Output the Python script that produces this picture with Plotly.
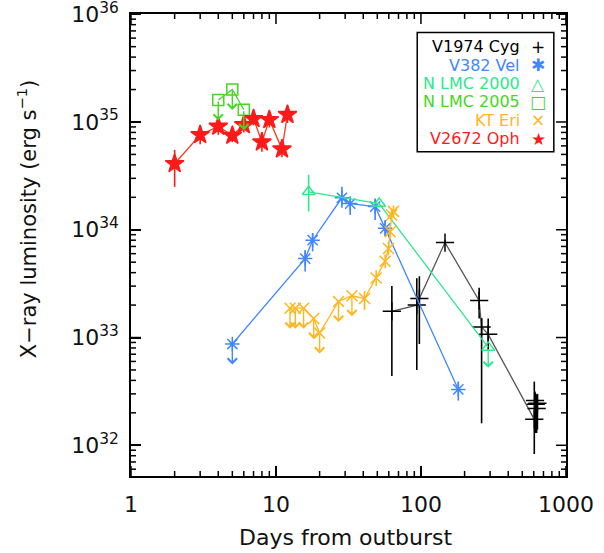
import numpy as np
import plotly.graph_objects as go

# ---------------- data ----------------
# V1974 Cyg (black plus)
cyg_days = [63, 93.6, 97.5, 146.5, 252, 262, 291, 605, 612, 620, 628, 636]
cyg_lum = [1.75e33, 2.0e33, 2.3e33, 7.6e33, 2.2e33, 1.25e33, 1.07e33,
           1.74e32, 2.6e32, 2.4e32, 2.2e32, 2.45e32]
cyg_lo = [4.4e32, 5.0e32, 8.7e32, 7.2e33, 1.5e33, 1.6e32, 7.5e32,
          8.3e31, 1.35e32, 1.3e32, 1.3e32, 1.4e32]
cyg_hi = [3.0e33, 3.55e33, 3.7e33, 8.0e33, 2.9e33, 1.5e33, 1.5e33,
          3.9e32, 3.05e32, 3.0e32, 2.9e32, 3.0e32]
cyg_ul = [False] * 12

# V382 Vel (blue asterisk)
vel_days = [5.0, 15.9, 17.9, 28.5, 32.5, 48.3, 56.6, 181]
vel_lum = [8.7e32, 5.4e33, 8.0e33, 1.98e34, 1.75e34, 1.64e34, 1.03e34, 3.3e32]
vel_lo = [np.nan, 4.1e33, 6.3e33, 1.6e34, 1.37e34, 1.23e34, 8.7e33, 2.6e32]
vel_hi = [np.nan, 6.5e33, 9.3e33, 2.5e34, 1.95e34, 1.95e34, 1.23e34, 3.9e32]
vel_ul = [True, False, False, False, False, False, False, False]

# N LMC 2000 (triangle)
n00_days = [16.8, 51.5, 291]
n00_lum = [2.25e34, 1.75e34, 8.1e32]
n00_lo = [1.48e34, np.nan, np.nan]
n00_hi = [3.24e34, np.nan, np.nan]
n00_ul = [False, False, True]

# N LMC 2005 (square, upper limits)
n05_days = [4.0, 5.0, 6.0]
n05_lum = [1.6e35, 2.0e35, 1.3e35]
n05_lo = [np.nan, np.nan, np.nan]
n05_hi = [np.nan, np.nan, np.nan]
n05_ul = [True, True, True]

# KT Eri (orange x)
kte_days = [12.5, 13.6, 15.5, 18.2, 20.0, 27.0, 33.4, 40.8, 49.1, 56.6, 59.7, 61.3, 62.8, 64.6]
kte_lum = [1.87e33, 1.87e33, 1.87e33, 1.5e33, 1.1e33, 2.16e33, 2.44e33, 2.3e33,
           3.57e33, 5.1e33, 6.7e33, 9.6e33, 1.37e34, 1.48e34]
kte_lo = [np.nan] * 7 + [1.8e33, 3.0e33, 4.4e33, 5.8e33, 8.4e33, 1.2e34, 1.3e34]
kte_hi = [np.nan] * 7 + [2.7e33, 4.2e33, 5.9e33, 7.7e33, 1.1e34, 1.55e34, 1.68e34]
kte_ul = [True] * 7 + [False] * 7

# V2672 Oph (red star)
oph_days = [2, 3, 4, 5, 6, 7, 8, 9, 11, 12]
oph_lum = [4.1e34, 7.6e34, 9.1e34, 7.5e34, 9.4e34, 1.07e35, 6.5e34, 1.05e35, 5.6e34, 1.17e35]
oph_lo = [2.5e34, 6.2e34, 7.6e34, 6.5e34, 8.0e34, 9.3e34, 5.3e34, 8.9e34, 4.7e34, 9.8e34]
oph_hi = [5.5e34, 9.3e34, 1.09e35, 8.6e34, 1.1e35, 1.23e35, 8.0e34, 1.24e35, 6.7e34, 1.4e35]
oph_ul = [False] * 10

legend_names = ["V1974 Cyg", "V382 Vel", "N LMC 2000", "N LMC 2005", "KT Eri", "V2672 Oph"]
legend_syms = ["+", "\u2731", "\u25b3", "\u25a1", "\u00d7", "\u2605"]

x_tickvals = [1, 10, 100, 1000]
x_ticktext = ["1", "10", "100", "1000"]
y_tickvals = [1e32, 1e33, 1e34, 1e35, 1e36]
y_ticktext = ["10<sup>32</sup>", "10<sup>33</sup>", "10<sup>34</sup>", "10<sup>35</sup>", "10<sup>36</sup>"]

X_RANGE = [0, 3.0005]
Y_RANGE = [31.715, 36.002]

# ---------------- style ----------------
FONT = "DejaVu Sans"
PLOT_W, PLOT_H = 435, 462
series = [
    dict(d=cyg_days, L=cyg_lum, lo=cyg_lo, hi=cyg_hi, ul=cyg_ul, color="#000000",
         lcolor="#555555", symbol="cross-thin-open", size=13),
    dict(d=vel_days, L=vel_lum, lo=vel_lo, hi=vel_hi, ul=vel_ul, color="#3f86ff",
         lcolor="#3f86ff", symbol="asterisk-open", size=12),
    dict(d=n00_days, L=n00_lum, lo=n00_lo, hi=n00_hi, ul=n00_ul, color="#2ee88e",
         lcolor="#2ee88e", symbol="triangle-up-open", size=11),
    dict(d=n05_days, L=n05_lum, lo=n05_lo, hi=n05_hi, ul=n05_ul, color="#44d822",
         lcolor="#44d822", symbol="square-open", size=11),
    dict(d=kte_days, L=kte_lum, lo=kte_lo, hi=kte_hi, ul=kte_ul, color="#ffb61c",
         lcolor="#ffb61c", symbol="x-thin-open", size=11),
    dict(d=oph_days, L=oph_lum, lo=oph_lo, hi=oph_hi, ul=oph_ul, color="#ff1a1a",
         lcolor="#ff3a1a", symbol="star", size=14),
]

fig = go.Figure()
annotations = []
for s in series:
    L = np.array(s["L"], dtype=float)
    lo = np.array(s["lo"], dtype=float)
    hi = np.array(s["hi"], dtype=float)
    eplus = np.nan_to_num(hi - L, nan=0.0)
    eminus = np.nan_to_num(L - lo, nan=0.0)
    fig.add_trace(go.Scatter(
        x=s["d"], y=s["L"], mode="lines+markers",
        line=dict(color=s["lcolor"], width=1.3),
        marker=dict(symbol=s["symbol"], size=s["size"], color=s["color"],
                    line=dict(color=s["color"], width=1.5)),
        error_y=dict(type="data", symmetric=False, array=eplus, arrayminus=eminus,
                     color=s["color"], thickness=1.6, width=0),
        showlegend=False, hoverinfo="skip",
    ))
    for d, l, u in zip(s["d"], s["L"], s["ul"]):
        if u:
            annotations.append(dict(
                x=float(np.log10(d)), y=float(np.log10(l) - 0.19),
                ax=float(np.log10(d)), ay=float(np.log10(l)),
                xref="x", yref="y", axref="x", ayref="y", text="",
                showarrow=True, arrowhead=4, arrowsize=1.3, arrowwidth=1.4,
                arrowcolor=s["color"], standoff=0, startstandoff=0,
            ))

# ---------- tick marks (inside, all four sides) drawn as one line trace ----------
minor_x = [float(m * 10.0 ** e) for e in range(0, 3) for m in range(2, 10)]
minor_y = [float(m * 10.0 ** e) for e in range(31, 36) for m in range(2, 10)]
tx, ty = [], []
y_bot, y_top = 10.0 ** Y_RANGE[0], 10.0 ** Y_RANGE[1]
x_lft, x_rgt = 10.0 ** X_RANGE[0], 10.0 ** X_RANGE[1]
for vals, tlen in ((x_tickvals, 10), (minor_x, 5)):
    dy = tlen / PLOT_H * (Y_RANGE[1] - Y_RANGE[0])
    for v in vals:
        tx += [v, v, None, v, v, None]
        ty += [y_bot, 10.0 ** (Y_RANGE[0] + dy), None, y_top, 10.0 ** (Y_RANGE[1] - dy), None]
for vals, tlen in ((y_tickvals, 10), (minor_y, 5)):
    dx = tlen / PLOT_W * (X_RANGE[1] - X_RANGE[0])
    for v in vals:
        tx += [x_lft, 10.0 ** (X_RANGE[0] + dx), None, x_rgt, 10.0 ** (X_RANGE[1] - dx), None]
        ty += [v, v, None, v, v, None]
fig.add_trace(go.Scatter(x=tx, y=ty, mode="lines", connectgaps=False,
                         line=dict(color="black", width=1.5),
                         showlegend=False, hoverinfo="skip"))

# legend (text right-aligned, symbol at right)
L_LEFT, L_RIGHT, L_TOP, L_BOTTOM = 0.658, 0.972, 0.960, 0.702
fig.add_shape(type="rect", xref="paper", yref="paper", x0=L_LEFT, x1=L_RIGHT,
              y0=L_BOTTOM, y1=L_TOP, line=dict(color="black", width=1.5),
              fillcolor="white", layer="above")
row_y0, row_dy = 0.929, 0.0398
for i, (name, sym, s) in enumerate(zip(legend_names, legend_syms, series)):
    yy = row_y0 - i * row_dy
    annotations.append(dict(x=0.899, y=yy, xref="paper", yref="paper", text=name,
                            xanchor="right", yanchor="middle", showarrow=False,
                            font=dict(family=FONT, size=16, color=s["color"])))
    annotations.append(dict(x=0.936, y=yy, xref="paper", yref="paper", text=sym,
                            xanchor="center", yanchor="middle", showarrow=False,
                            font=dict(family=FONT, size=17, color=s["color"])))

# axis titles
annotations.append(dict(x=0.495, y=-0.134, xref="paper", yref="paper",
                        text="Days from outburst", showarrow=False,
                        xanchor="center", yanchor="middle",
                        font=dict(family=FONT, size=22, color="#111111")))
annotations.append(dict(x=-0.239, y=0.556, xref="paper", yref="paper",
                        text="X\u2212ray luminosity (erg s<sup>\u22121</sup>)", showarrow=False,
                        textangle=-90, xanchor="center", yanchor="middle",
                        font=dict(family=FONT, size=21, color="#111111")))

axis_common = dict(
    type="log", showgrid=False, zeroline=False, showline=True, linecolor="black",
    linewidth=1.5, mirror=True, ticks="inside", tickwidth=1.5, ticklen=10,
    tickcolor="black", tickfont=dict(family=FONT, size=22, color="#111111"),
    ticklabeloverflow="allow", tickmode="array", automargin=False,
)
fig.update_layout(
    xaxis=dict(**axis_common, range=X_RANGE, tickvals=x_tickvals, ticktext=x_ticktext,
               ticklabelstandoff=8),
    yaxis=dict(**axis_common, range=Y_RANGE, tickvals=y_tickvals, ticktext=y_ticktext,
               ticklabelstandoff=6),
)

fig.update_layout(
    width=604, height=553, margin=dict(l=131, r=38, t=14, b=77, autoexpand=False),
    plot_bgcolor="white", paper_bgcolor="white", showlegend=False,
    annotations=annotations, font=dict(family=FONT),
)
fig.write_html("out.html")
